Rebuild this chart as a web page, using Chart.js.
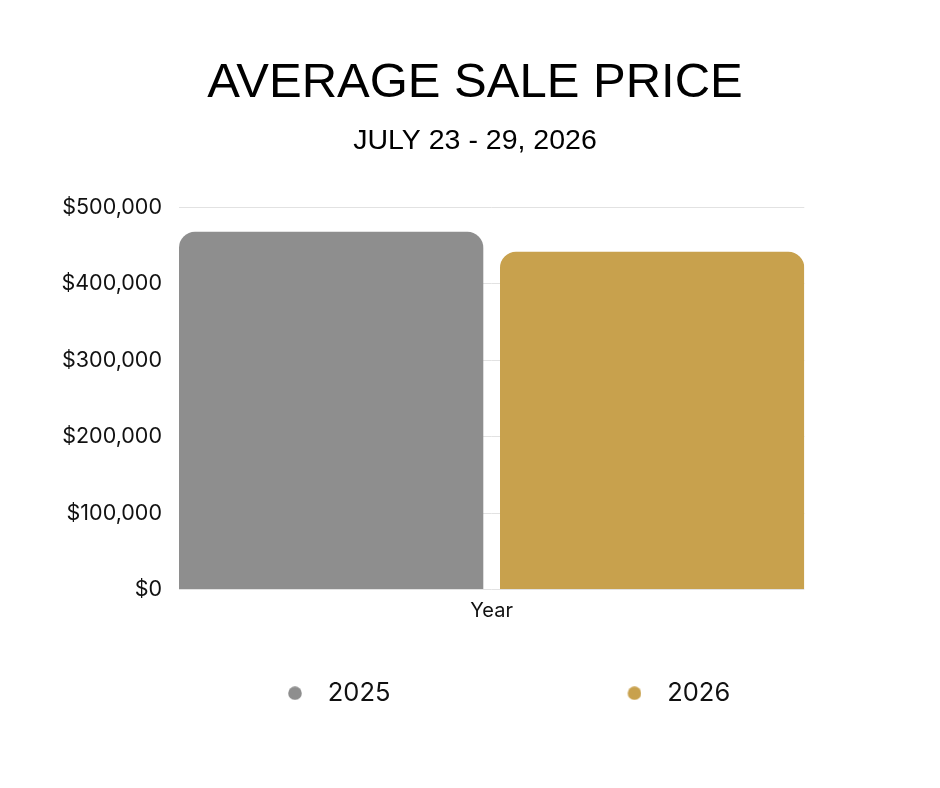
<!DOCTYPE html>
<html>
<head>
<meta charset="utf-8">
<script src="https://cdn.jsdelivr.net/npm/chart.js@4.4.0/dist/chart.umd.min.js"></script>
<style>
  html, body { margin: 0; padding: 0; background: #fff; }
  #wrap { width: 940px; height: 788px; }
</style>
</head>
<body>
<div id="wrap"><canvas id="preco"></canvas></div>
<script>
// dados
const categorias = ['Year']
const anos = ['2025', '2026']
const valores_2025 = [468000]
const valores_2026 = [442000]
const cores = ['#8e8e8e', '#c8a14d']
const ticks_y = [0, 100000, 200000, 300000, 400000, 500000]

// bolinha da legenda (canvas largo, bolinha encostada na direita)
const FONTE_LEGENDA = 25.5
const LARGURA_CAIXA = 254
function bolinha(cor) {
  const desloc = LARGURA_CAIXA / 2 + FONTE_LEGENDA / 2 - 33
  const c = document.createElement('canvas')
  c.width = Math.round(2 * (desloc + 7))
  c.height = 14
  const ctx = c.getContext('2d')
  ctx.fillStyle = cor
  ctx.beginPath()
  ctx.arc(c.width - 7, 7, 6.8, 0, Math.PI * 2)
  ctx.fill()
  return c
}
const bolinhas = cores.map(bolinha)

const preco = document.getElementById('preco')

new Chart(preco, {
  type: 'bar',
  data: {
    labels: categorias,
    datasets: [{
      label: anos[0],
      data: valores_2025,
      backgroundColor: cores[0],
      borderRadius: 16,
      borderSkipped: 'start'
    }, {
      label: anos[1],
      data: valores_2026,
      backgroundColor: cores[1],
      borderRadius: 16,
      borderSkipped: 'start'
    }]
  },
  options: {
    responsive: true,
    maintainAspectRatio: false,
    animation: false,
    categoryPercentage: 1.0267,
    barPercentage: 0.948,
    layout: { padding: { left: 51, right: 41, top: 0, bottom: 72 } },
    plugins: {
      title: {
        display: true,
        text: 'AVERAGE SALE PRICE',
        color: '#000',
        font: { family: '"Liberation Sans", Arial, sans-serif', size: 49, weight: 'normal', lineHeight: 1.2 },
        padding: { top: 54, bottom: 0 }
      },
      subtitle: {
        display: true,
        text: 'JULY 23 - 29, 2026',
        color: '#000',
        font: { family: '"Liberation Sans", Arial, sans-serif', size: 28.5, weight: 'normal', lineHeight: 1.2 },
        padding: { top: 11, bottom: 49.4 }
      },
      legend: {
        position: 'bottom',
        align: 'start',
        labels: {
          usePointStyle: true,
          pointStyleWidth: LARGURA_CAIXA,
          boxHeight: 14,
          padding: 10,
          color: '#111',
          font: { family: 'Inter, sans-serif', size: FONTE_LEGENDA },
          generateLabels: (chart) => {
            const itens = Chart.defaults.plugins.legend.labels.generateLabels(chart)
            itens.forEach((it, i) => { it.pointStyle = bolinhas[i] })
            return itens
          }
        }
      },
      tooltip: { enabled: false }
    },
    scales: {
      x: {
        grid: { display: false },
        border: { display: false },
        ticks: { color: '#111', padding: 1, font: { family: 'Inter, sans-serif', size: 20 } },
        afterFit: (s) => { s.height = 81 }
      },
      y: {
        min: 0,
        max: 500000,
        afterBuildTicks: (s) => { s.ticks = ticks_y.map(v => ({ value: v })) },
        grid: { color: '#e2e2e2', drawTicks: false },
        border: { display: false },
        ticks: {
          color: '#111',
          padding: 17,
          font: { family: 'Inter, sans-serif', size: 21.5 },
          callback: (v) => '$' + Number(v).toLocaleString('en-US')
        },
        afterFit: (s) => { s.width = 128 }
      },
      y_dir: {
        position: 'right',
        display: true,
        grid: { display: false },
        border: { display: false },
        ticks: { display: false },
        afterFit: (s) => { s.width = 94.7 }
      }
    }
  }
});
</script>
</body>
</html>
